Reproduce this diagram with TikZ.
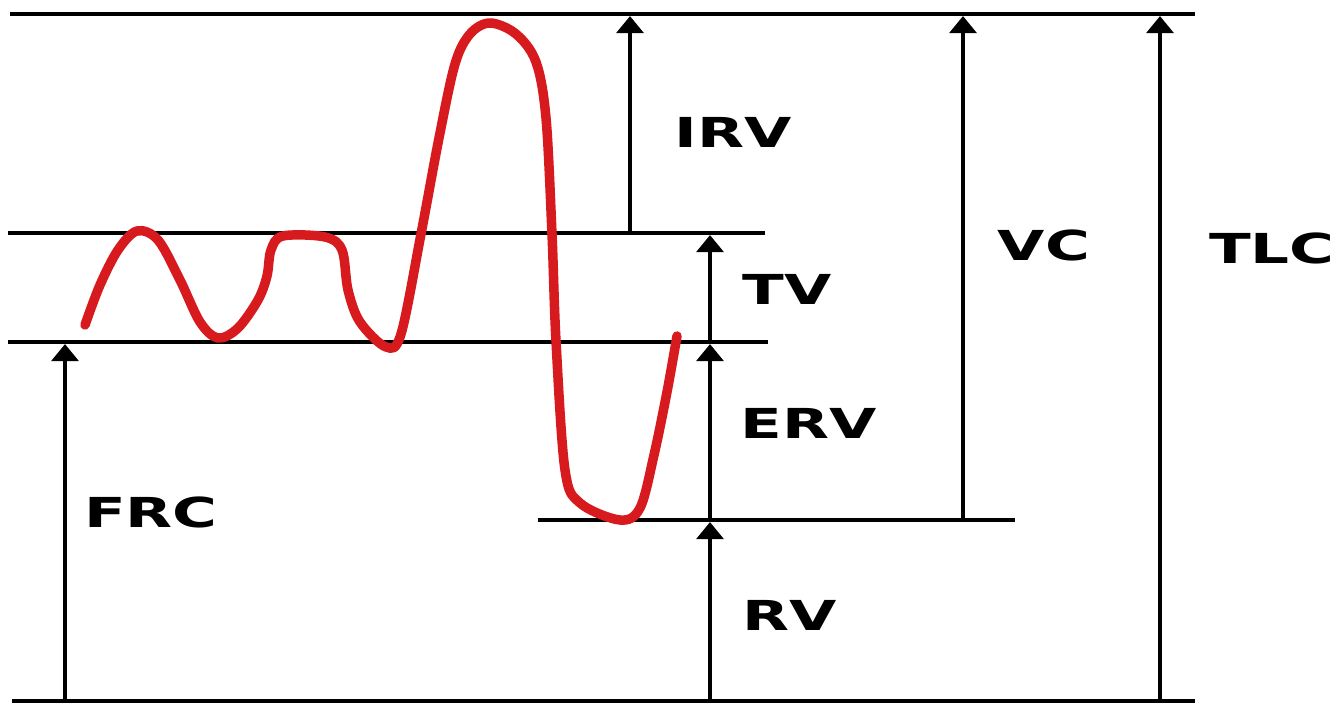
\documentclass[tikz,border=0pt]{standalone}
\usepackage{fontspec}
\usepackage{xcolor}
\newfontfamily\labelfont{DejaVu Sans}[FakeStretch=1.48]
\usetikzlibrary{arrows.meta}

\definecolor{breath}{RGB}{214,26,30}

\begin{document}
\begin{tikzpicture}[x=0.02cm, y=-0.02cm,
  level/.style={line width=2.3pt},
  vol/.style={line width=2pt, -{Triangle[width=0.54cm,length=0.34cm]}, shorten >=1.2pt},
  lab/.style={font=\labelfont\bfseries\fontsize{23.5}{23.5}\selectfont, inner sep=0pt},
  trace/.style={breath, line width=5.4pt, line cap=round, line join=round}]
  \useasboundingbox (0,0) rectangle (1343,705);

  % level lines
  \coordinate (top-l) at (10,14);   \coordinate (top-r) at (1195,14);
  \coordinate (tv-l)  at (8,233);   \coordinate (tv-r)  at (765,233);
  \coordinate (frc-l) at (8,342);   \coordinate (frc-r) at (768,342);
  \coordinate (rv-l)  at (538,520); \coordinate (rv-r)  at (1015,520);
  \coordinate (bot-l) at (12,701);  \coordinate (bot-r) at (1195,701);

  \draw[level] (top-l) -- (top-r);
  \draw[level] (tv-l)  -- (tv-r);
  \draw[level] (frc-l) -- (frc-r);
  \draw[level] (rv-l)  -- (rv-r);
  \draw[level] (bot-l) -- (bot-r);

  % arrow ends
  \coordinate (irv-a) at (630,233);  \coordinate (irv-b) at (630,14);
  \coordinate (tv-a)  at (710,342);  \coordinate (tv-b)  at (710,233);
  \coordinate (erv-a) at (710,520);  \coordinate (erv-b) at (710,342);
  \coordinate (rv-a)  at (710,701);  \coordinate (rv-b)  at (710,520);
  \coordinate (vc-a)  at (963,520);  \coordinate (vc-b)  at (963,14);
  \coordinate (tlc-a) at (1160,701); \coordinate (tlc-b) at (1160,14);
  \coordinate (frc-a) at (65,701);   \coordinate (frc-b) at (65,342);

  \draw[vol] (irv-a) -- (irv-b);
  \draw[vol] (tv-a)  -- (tv-b);
  \draw[vol] (erv-a) -- (erv-b);
  \draw[vol] (rv-a)  -- (rv-b);
  \draw[vol] (vc-a)  -- (vc-b);
  \draw[vol] (tlc-a) -- (tlc-b);
  \draw[vol] (frc-a) -- (frc-b);

  % labels
  \node[lab] (IRV) at (733,132)  {IRV};
  \node[lab] (TV)  at (787,289)  {TV};
  \node[lab] (ERV) at (809,423)  {ERV};
  \node[lab] (RV)  at (790,615)  {RV};
  \node[lab] (VC)  at (1044,245) {VC};
  \node[lab] (TLC) at (1272,248) {TLC};
  \node[lab] (FRC) at (151,512)  {FRC};

  % spirogram trace
  \draw[trace] plot[smooth, tension=0.55] coordinates {
    (85,325) (100,285) (118,250) (137,231) (158,240) (180,280) (200,322)
    (218,338) (238,328) (258,300) (267,276) (271,250) (283,236) (325,237)
    (342,250) (348,290) (360,322) (386,347) (401,334) (421,234) (439,138)
    (455,64) (470,34) (490,23) (516,34) (536,62) (546,118) (552,234)
    (556,341) (565,470) (580,503) (620,520) (640,508) (654,455) (667,392)
    (677,336)};
\end{tikzpicture}
\end{document}
